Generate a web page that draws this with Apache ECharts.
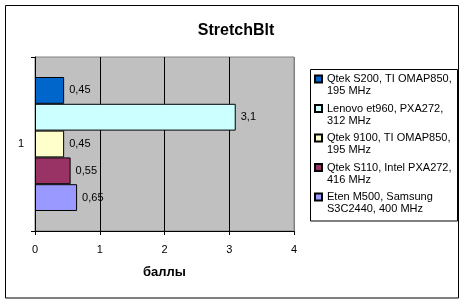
<!DOCTYPE html>
<html>
<head>
<meta charset="utf-8">
<script src="https://cdn.jsdelivr.net/npm/echarts@6/dist/echarts.min.js"></script>
<style>
html,body{margin:0;padding:0;background:#fff;}
#c{position:absolute;left:0;top:0;width:465px;height:303px;}
</style>
</head>
<body>
<div id="c"></div>
<script>
var categories = ['1'];
var seriesNames = [
  'Qtek S200, TI OMAP850,\n195 MHz',
  'Lenovo et960, PXA272,\n312 MHz',
  'Qtek 9100, TI OMAP850,\n195 MHz',
  'Qtek S110, Intel PXA272,\n416 MHz',
  'Eten M500, Samsung\nS3C2440, 400 MHz'
];
var seriesValues = [
  [0.45],
  [3.1],
  [0.45],
  [0.55],
  [0.65]
];
var seriesColors = ['#0066CC', '#CCFFFF', '#FFFFCC', '#993366', '#9999FF'];
var xTicks = [0, 1, 2, 3, 4];

var FONT = 'Liberation Sans, Arial, sans-serif';

var series = seriesNames.map(function (n, i) {
  return {
    type: 'bar',
    name: n,
    data: seriesValues[i],
    barGap: 0,
    barCategoryGap: '23%',
    itemStyle: { color: seriesColors[i], borderColor: '#000', borderWidth: 1 },
    label: {
      show: true, position: 'right', distance: 5,
      fontSize: 11, fontFamily: FONT, color: '#000',
      formatter: function (p) { return String(p.value).replace('.', ','); }
    },
    emphasis: { disabled: true },
    animation: false
  };
});

var chart = echarts.init(document.getElementById('c'), null, { renderer: 'canvas' });
chart.setOption({
  animation: false,
  color: seriesColors,
  title: {
    text: 'StretchBlt', left: 231, top: 18, textAlign: 'center',
    textStyle: { fontSize: 16, fontWeight: 'bold', fontFamily: FONT, color: '#000' }
  },
  grid: {
    left: 35, top: 57, right: 171, bottom: 72,
    show: true, backgroundColor: '#C0C0C0', borderColor: '#808080', borderWidth: 1
  },
  legend: {
    orient: 'vertical', left: 314, top: 61, padding: 0,
    itemWidth: 7, itemHeight: 7, itemGap: -6.5,
    icon: 'rect',
    textStyle: { fontSize: 11, lineHeight: 12, fontFamily: FONT, color: '#000' },
    formatter: function (n) { return '\n' + n; },
    selectedMode: false
  },
  xAxis: {
    type: 'value', min: xTicks[0], max: xTicks[xTicks.length - 1], interval: 1,
    name: 'баллы', nameLocation: 'middle', nameGap: 35,
    nameTextStyle: { fontSize: 13, fontWeight: 'bold', fontFamily: FONT, color: '#000' },
    axisLine: { show: true, lineStyle: { color: '#000', width: 1 } },
    axisTick: { show: true, length: 4, lineStyle: { color: '#000' } },
    axisLabel: { fontSize: 11, fontFamily: FONT, color: '#000', margin: 13 },
    splitLine: { show: true, lineStyle: { color: ['#000', '#000', '#000', '#000', '#808080'], width: 1 } }
  },
  yAxis: {
    type: 'category', data: categories,
    axisLine: { show: true, lineStyle: { color: '#000', width: 1 } },
    axisTick: { show: true, length: 4, lineStyle: { color: '#000' } },
    axisLabel: { fontSize: 11, fontFamily: FONT, color: '#000', margin: 11 },
    splitLine: { show: false }
  },
  graphic: [
    { type: 'rect', shape: { x: 5.5, y: 5.5, width: 453, height: 292.5 }, style: { fill: 'none', stroke: '#000', lineWidth: 1 }, z: 100 },
    { type: 'rect', shape: { x: 310.5, y: 69.5, width: 147, height: 151.5 }, style: { fill: 'none', stroke: '#000', lineWidth: 1 }, z: 100 }
  ],
  series: series
});
</script>
</body>
</html>
